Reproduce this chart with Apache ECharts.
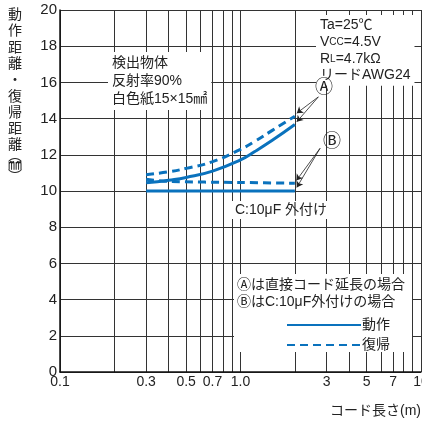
<!DOCTYPE html>
<html>
<head>
<meta charset="utf-8">
<script src="https://cdn.jsdelivr.net/npm/echarts@6/dist/echarts.min.js"></script>
<style>
  html, body { margin: 0; padding: 0; background: #fff; }
  #chart { width: 422px; height: 421px; }
</style>
</head>
<body>
<div id="chart"></div>
<script>
// cord length (m) on a log axis
const xTickLabels = [0.1, 0.3, 0.5, 0.7, 1, 3, 5, 7, 10];
const xGridValues = [0.1, 0.2, 0.3, 0.4, 0.5, 0.6, 0.7, 0.8, 0.9, 1, 2, 3, 4, 5, 6, 7, 8, 9, 10];

// A: direct cord extension
const lengthA = [0.3, 0.4, 0.5, 0.7, 1.0, 1.2, 1.5, 2.0];
const operateA = [10.45, 10.6, 10.75, 11.1, 11.72, 12.18, 12.8, 13.67];
const releaseA = [10.9, 11.06, 11.25, 11.62, 12.3, 12.74, 13.35, 14.13];

// B: with C = 10uF
const lengthB = [0.3, 0.4, 1.0, 2.0];
const operateB = [10.0, 10.0, 10.0, 10.0];
const releaseB = [10.65, 10.53, 10.47, 10.43];

const BLUE = '#0a72bd';
const FONT = "'Liberation Sans', 'Noto Sans CJK JP', sans-serif";
const zip = (xs, ys) => xs.map((x, i) => [x, ys[i]]);

const chart = echarts.init(document.getElementById('chart'));

const arrowLine = { color: '#222', width: 0.8, type: 'solid' };

chart.setOption({
  animation: false,
  textStyle: { fontFamily: FONT },
  grid: { left: 60, right: 1, top: 10, bottom: 49, outerBoundsMode: 'none', containLabel: false },
  xAxis: {
    type: 'log',
    logBase: 10,
    min: 0.1,
    max: 10,
    axisLine: { show: true, onZero: false, lineStyle: { color: '#111', width: 1.5 } },
    axisTick: { show: false, customValues: xGridValues },
    splitLine: { show: true, lineStyle: { color: '#333', width: 1 } },
    axisLabel: {
      customValues: xTickLabels,
      formatter: v => (v === 1 ? '1.0' : String(v)),
      color: '#222', fontSize: 14, margin: 3, fontFamily: FONT
    }
  },
  yAxis: {
    type: 'value',
    min: 0,
    max: 20,
    interval: 2,
    axisLine: { show: true, lineStyle: { color: '#111', width: 1.5 } },
    axisTick: { show: false },
    splitLine: { lineStyle: { color: '#333', width: 1 } },
    axisLabel: { color: '#222', fontSize: 15, margin: 3, fontFamily: FONT }
  },
  legend: {
    orient: 'vertical',
    left: 281, top: 313,
    itemWidth: 74, itemHeight: 12, itemGap: 6,
    z: 10,
    itemStyle: { opacity: 0 },
    data: ['動作', '復帰'],
    textStyle: { fontSize: 14, color: '#222', padding: [0, 0, 0, -4], fontFamily: FONT }
  },
  series: [
    {
      name: '動作', type: 'line', data: zip(lengthA, operateA), smooth: 0.5,
      showSymbol: false, symbol: 'none', z: 3,
      lineStyle: { color: BLUE, width: 3 }, itemStyle: { color: BLUE },
      markLine: {
        silent: true, symbol: ['none', 'arrow'], symbolSize: 6,
        label: { show: false }, lineStyle: arrowLine,
        data: [
          [{ coord: [2.7, 15.2] }, { coord: [2.05, 14.3] }],
          [{ coord: [2.7, 15.2] }, { coord: [2.05, 13.82] }],
          [{ coord: [2.76, 12.36] }, { coord: [2.04, 10.58] }],
          [{ coord: [2.76, 12.36] }, { coord: [2.05, 10.2] }]
        ]
      }
    },
    {
      name: '動作', type: 'line', data: zip(lengthB, operateB),
      showSymbol: false, symbol: 'none', z: 3,
      lineStyle: { color: BLUE, width: 3 }, itemStyle: { color: BLUE }
    },
    {
      name: '復帰', type: 'line', data: zip(lengthA, releaseA), smooth: 0.5,
      showSymbol: false, symbol: 'none', z: 3,
      lineStyle: { color: BLUE, width: 3, type: [8, 5] }, itemStyle: { color: BLUE }
    },
    {
      name: '復帰', type: 'line', data: zip(lengthB, releaseB), smooth: 0.3,
      showSymbol: false, symbol: 'none', z: 3,
      lineStyle: { color: BLUE, width: 3, type: [8, 5] }, itemStyle: { color: BLUE }
    }
  ],
  graphic: [
    // y axis name, vertical
    {
      type: 'text', left: 8, top: 7, z: 10,
      style: { text: '動\n作\n距\n離\n・\n復\n帰\n距\n離', font: '14px ' + FONT, lineHeight: 16.3, fill: '#222' }
    },
    { type: 'text', left: 8, top: 149, z: 10, style: { text: '︵', font: '14px ' + FONT, fill: '#222' } },
    { type: 'text', left: 8, top: 158, z: 10, style: { text: '㎜', font: '14px ' + FONT, fill: '#222' } },
    { type: 'text', left: 8, top: 170, z: 10, style: { text: '︶', font: '14px ' + FONT, fill: '#222' } },
    // x axis name
    {
      type: 'text', right: 1, top: 404, z: 10,
      style: { text: 'コード長さ(m)', font: '14px ' + FONT, fill: '#222' }
    },
    // target note
    {
      type: 'text', left: 108, top: 52, z: 10,
      style: {
        text: '検出物体\n反射率90%\n白色紙15×15㎟', font: '14px ' + FONT, lineHeight: 18,
        fill: '#222', backgroundColor: '#fff', padding: [2, 4, 2, 4]
      }
    },
    // conditions
    {
      type: 'text', left: 316, top: 15, z: 10,
      style: {
        text: '{n|Ta=25℃}\n{n|V}{s|CC}{n|=4.5V}\n{n|R}{s|L}{n|=4.7kΩ}\n{n|リードAWG24}',
        fill: '#222', backgroundColor: '#fff', padding: [2, 4, 2, 4],
        rich: {
          n: { font: '14px ' + FONT, lineHeight: 16.7, fill: '#222' },
          s: { font: '10px ' + FONT, lineHeight: 16.7, fill: '#222', verticalAlign: 'bottom', padding: [0, 0, 3, 0] }
        }
      }
    },
    { type: 'text', left: 315, top: 79, z: 10, style: { text: 'Ⓐ', font: '18px ' + FONT, fill: '#222' } },
    { type: 'text', left: 323, top: 133, z: 10, style: { text: 'Ⓑ', font: '18px ' + FONT, fill: '#222' } },
    // capacitor note
    {
      type: 'text', left: 231, top: 201, z: 10,
      style: {
        text: 'C:10μF 外付け', font: '14px ' + FONT, fill: '#222',
        backgroundColor: '#fff', padding: [2, 4, 2, 4]
      }
    },
    // legend area
    { type: 'rect', left: 234, top: 274, z: 4, shape: { width: 178, height: 78 }, style: { fill: '#fff' } },
    {
      type: 'text', left: 237, top: 277, z: 10,
      style: { text: 'Ⓐは直接コード延長の場合\nⒷはC:10μF外付けの場合', font: '14px ' + FONT, lineHeight: 17, fill: '#222' }
    }
  ]
});
</script>
</body>
</html>
